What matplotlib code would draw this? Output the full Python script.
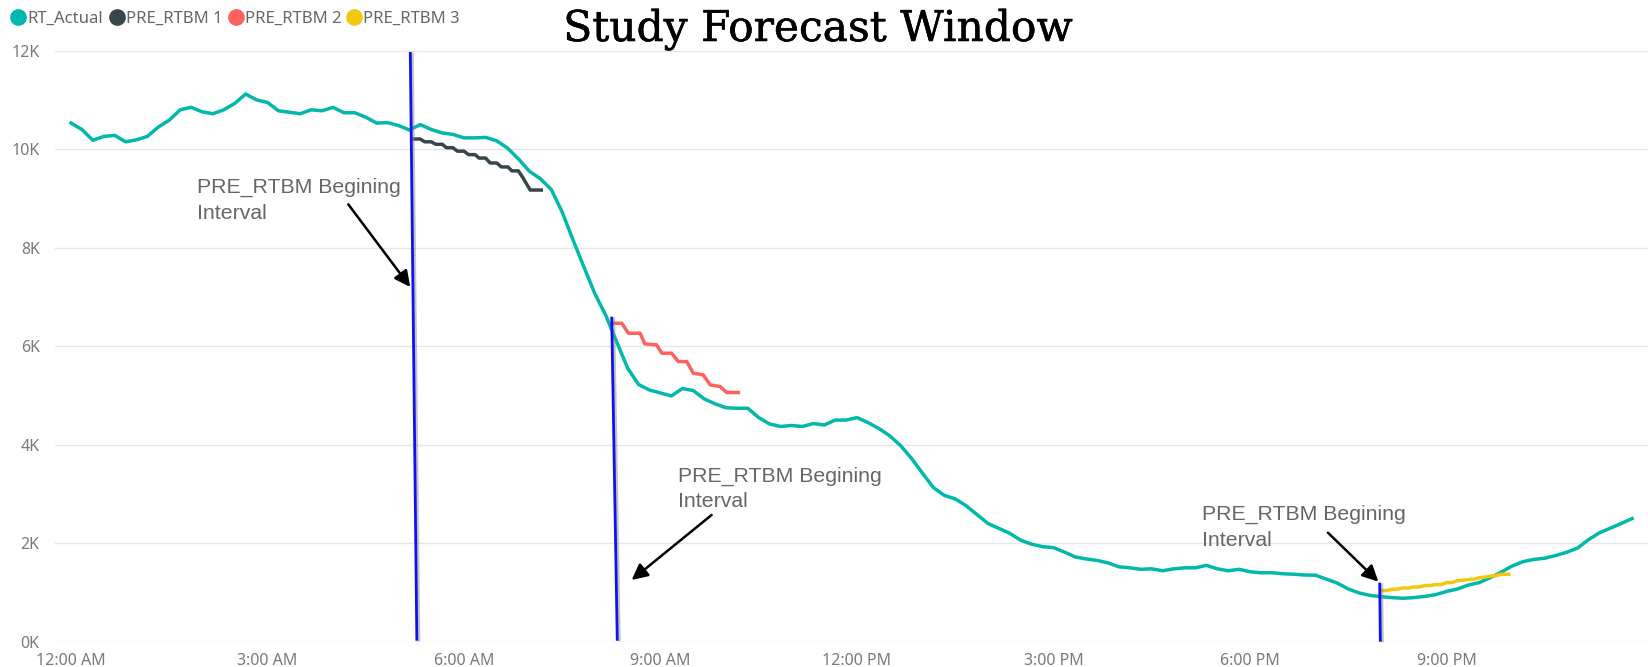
import numpy as np
import matplotlib
matplotlib.use("Agg")
import matplotlib.pyplot as plt
from matplotlib.lines import Line2D
import matplotlib.patheffects as pe

# ---------------- data ----------------
# RT_Actual, every 10 minutes from 12:00 AM (values in MW)
rt_actual = [
    10530, 10400, 10180, 10260, 10280, 10150, 10190, 10260, 10450, 10590, 10800, 10850,
    10760, 10720, 10800, 10930, 11120, 11000, 10950, 10780, 10750, 10720, 10800, 10780,
    10850, 10740, 10740, 10650, 10530, 10540, 10480, 10390, 10500, 10400, 10330, 10300,
    10230, 10230, 10240, 10170, 10020, 9800, 9550, 9400, 9180, 8720, 8150, 7600,
    7060, 6620, 6080, 5550, 5220, 5110, 5050, 4990, 5140, 5100, 4930, 4830,
    4750, 4740, 4740, 4550, 4420, 4370, 4390, 4370, 4430, 4400, 4500, 4500,
    4550, 4450, 4330, 4180, 3980, 3720, 3420, 3130, 2970, 2900, 2760, 2580,
    2400, 2300, 2200, 2060, 1980, 1930, 1910, 1820, 1720, 1680, 1650, 1600,
    1520, 1500, 1470, 1480, 1440, 1480, 1500, 1500, 1550, 1480, 1440, 1470,
    1420, 1400, 1400, 1380, 1370, 1354, 1350, 1270, 1190, 1070, 990, 940,
    914, 895, 882, 895, 920, 955, 1020, 1070, 1150, 1200, 1300, 1410,
    1535, 1625, 1670, 1695, 1750, 1815, 1900, 2070, 2210, 2305, 2400, 2500,
]
rt_step_min = 10

# Forecast runs: (hour, value) vertices
rtbm1_hours = [5.24, 5.33, 5.40, 5.50, 5.57, 5.67, 5.73, 5.83, 5.90, 6.00, 6.07, 6.17, 6.23,
               6.33, 6.40, 6.50, 6.57, 6.67, 6.73, 6.83, 6.90, 7.01, 7.18]
rtbm1_values = [10207, 10207, 10150, 10150, 10100, 10100, 10030, 10030, 9960, 9960, 9890, 9890, 9820,
                9820, 9720, 9720, 9640, 9640, 9560, 9560, 9420, 9171, 9171]

rtbm2_hours = [8.28, 8.41, 8.51, 8.69, 8.76, 8.94, 9.02, 9.17, 9.27, 9.40, 9.50, 9.65, 9.76, 9.91, 10.01, 10.19]
rtbm2_values = [6466, 6466, 6263, 6263, 6047, 6027, 5858, 5858, 5689, 5689, 5452, 5418, 5215, 5181, 5060, 5060]

rtbm3_hours = [20.02, 20.10, 20.17, 20.25, 20.33, 20.42, 20.50, 20.58, 20.67, 20.75, 20.83, 20.92,
               21.00, 21.08, 21.17, 21.25, 21.33, 21.42, 21.50, 21.58, 21.67, 21.75, 21.83, 21.95]
rtbm3_values = [1036, 1040, 1065, 1065, 1090, 1090, 1110, 1110, 1140, 1140, 1160, 1160,
                1200, 1200, 1240, 1250, 1260, 1270, 1300, 1310, 1330, 1340, 1367, 1370]

# hand-drawn "beginning interval" markers: (x0, y0, x1, y1) in hours / MW
marker_lines = [(5.18, 11974, 5.28, 20), (8.255, 6599, 8.34, 20), (19.98, 1198, 19.99, 0)]
# annotations: text anchor (hour, MW), arrow start, arrow end
annot_text = "PRE_RTBM Begining\nInterval"
annot_text_pos = [(1.93, 9415), (9.27, 3553), (17.26, 2776)]
annot_arrow_from = [(4.233, 8881), (9.78, 2573), (19.19, 2213)]
annot_arrow_to = [(5.18, 7202), (8.56, 1253), (19.96, 1220)]

series_names = ["RT_Actual", "PRE_RTBM 1", "PRE_RTBM 2", "PRE_RTBM 3"]
series_colors = ["#01B8AA", "#374649", "#FD625E", "#F2C80F"]

tick_hours = [0, 3, 6, 9, 12, 15, 18, 21]
tick_labels = ["12:00 AM", "3:00 AM", "6:00 AM", "9:00 AM", "12:00 PM", "3:00 PM", "6:00 PM", "9:00 PM"]
ytick_vals = [0, 2000, 4000, 6000, 8000, 10000, 12000]
ytick_labels = ["0K", "2K", "4K", "6K", "8K", "10K", "12K"]

title = "Study Forecast Window"

# ---------------- plot ----------------
W, H = 1649, 667
fig = plt.figure(figsize=(W / 100, H / 100), dpi=100)
ax = fig.add_axes([55 / W, (H - 641.7) / H, (W - 55) / W, (641.7 - 50.7) / H])

rt_hours = np.arange(len(rt_actual)) * rt_step_min / 60.0
lw = 2.5
ax.plot(rt_hours, rt_actual, color=series_colors[0], lw=lw, solid_joinstyle="round", zorder=3)
ax.plot(rtbm1_hours, rtbm1_values, color=series_colors[1], lw=lw, zorder=4)
ax.plot(rtbm2_hours, rtbm2_values, color=series_colors[2], lw=lw, zorder=4)
ax.plot(rtbm3_hours, rtbm3_values, color=series_colors[3], lw=lw, zorder=4)

shadow = [pe.SimpleLineShadow(offset=(1.5, -0.5), shadow_color="#888888", alpha=0.5), pe.Normal()]
for x0, y0, x1, y1 in marker_lines:
    ax.plot([x0, x1], [y0, y1], color="#1010F0", lw=2.0, zorder=6, path_effects=shadow,
            solid_capstyle="butt", clip_on=False)

for tp, af, at in zip(annot_text_pos, annot_arrow_from, annot_arrow_to):
    ax.text(tp[0], tp[1], annot_text, ha="left", va="top", fontsize=15.3, color="#666666",
            family="Liberation Sans", linespacing=1.42, zorder=7)
    ax.annotate("", xy=at, xytext=af,
                arrowprops=dict(arrowstyle="-|>", color="black", lw=1.8, mutation_scale=24,
                                shrinkA=0, shrinkB=0),
                zorder=7)

ax.set_xlim(-(71 - 55) / 65.5, (W - 71) / 65.5)
ax.set_ylim(0, 12000)
ax.set_xticks(tick_hours)
ax.set_xticklabels(tick_labels)
ax.set_yticks(ytick_vals)
ax.set_yticklabels(ytick_labels)
for lab in ax.get_xticklabels() + ax.get_yticklabels():
    lab.set_family("Noto Sans")
    lab.set_fontsize(11.5)
    lab.set_color("#7a7a7a")
ax.tick_params(axis="both", length=0)
ax.tick_params(axis="x", pad=8)
ax.tick_params(axis="y", pad=11)
ax.grid(axis="y", color="#E6E6E6", lw=1.0)
ax.set_axisbelow(True)
for s in ax.spines.values():
    s.set_visible(False)

# legend (top-left), laid out in figure pixels
leg_circle_x = [18.3, 116.7, 236.0, 354.0]
leg_y = 16.7
for cx, name, col in zip(leg_circle_x, series_names, series_colors):
    fig.add_artist(Line2D([cx / W], [1 - leg_y / H], ls="none", marker="o", ms=11,
                          color=col, transform=fig.transFigure))
    fig.text((cx + 9.5) / W, 1 - leg_y / H, name, ha="left", va="center_baseline",
             fontsize=12, family="Noto Sans", color="#666666")

fig.text(818 / W, 1 - 41 / H, title, ha="center", va="baseline", fontsize=30.5,
         family="DejaVu Serif", color="black",
         path_effects=[pe.withStroke(linewidth=0.4, foreground="black")])

fig.savefig("out.png", dpi=100)
